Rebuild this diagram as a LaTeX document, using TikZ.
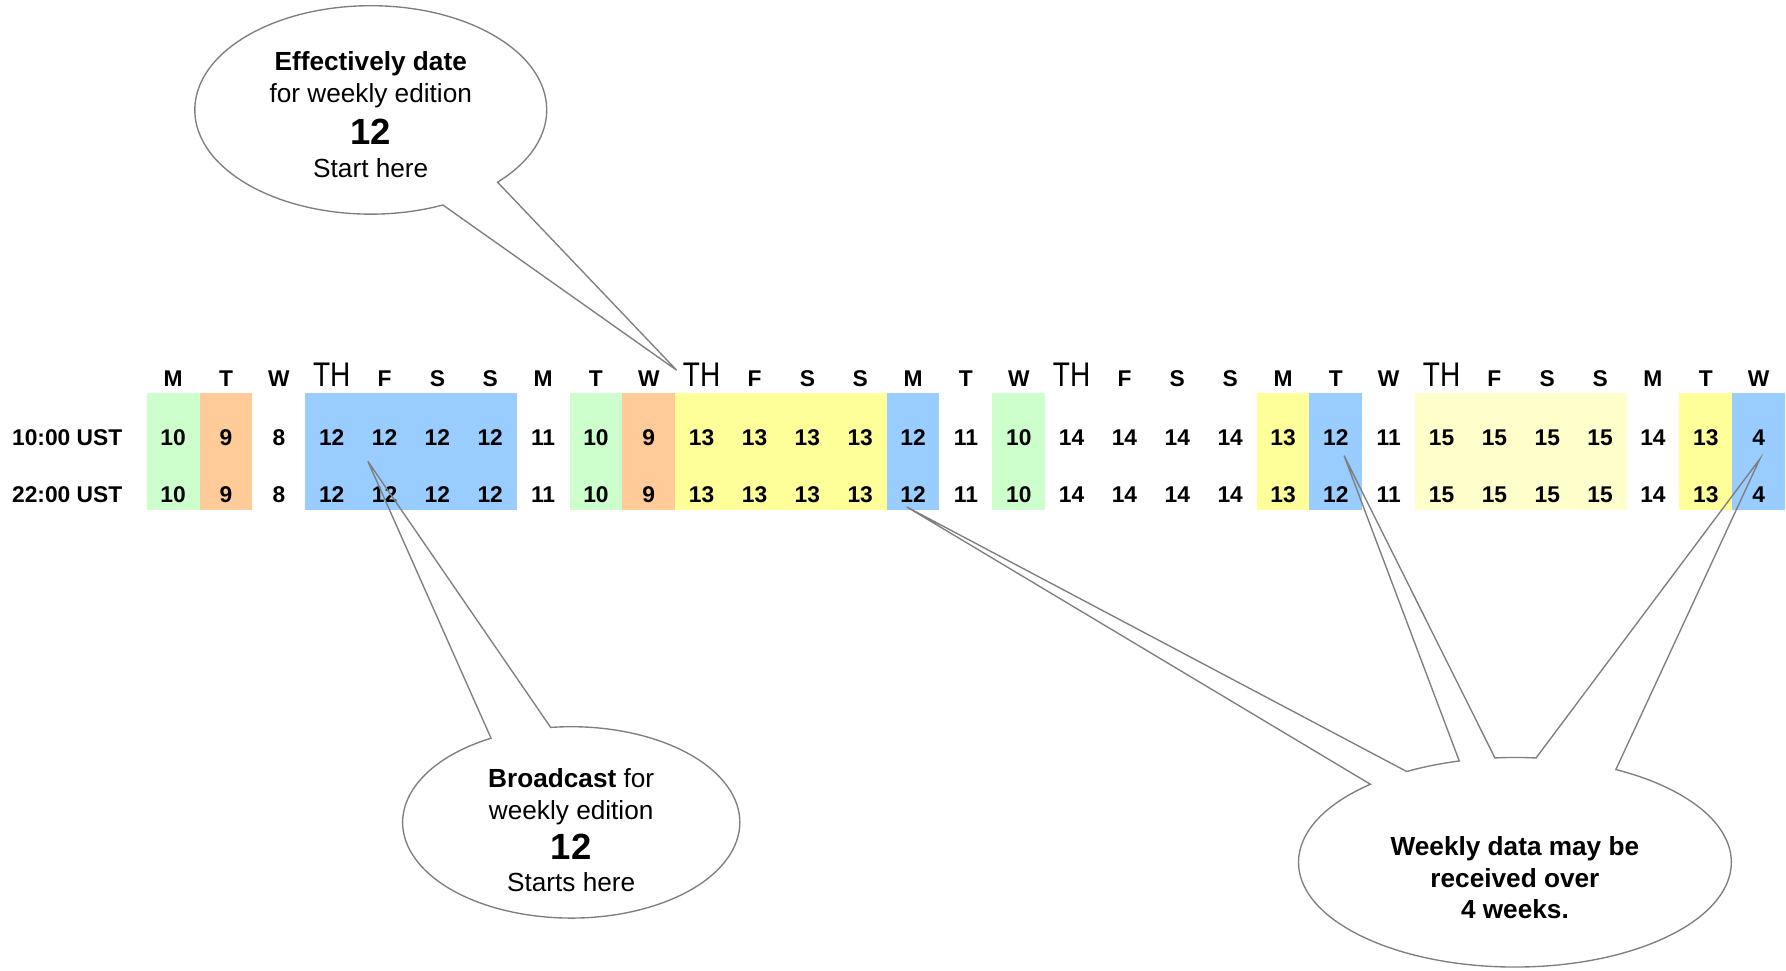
\documentclass[tikz,border=0pt]{standalone}
\usepackage{fontspec}
\setmainfont{Liberation Sans}
\usepackage{xcolor}
\usepackage{tikz}
\usetikzlibrary{calc,positioning}

\definecolor{cellgreen}{HTML}{CCFFCC}
\definecolor{cellorange}{HTML}{FFCC99}
\definecolor{cellblue}{HTML}{99CCFF}
\definecolor{cellyellow}{HTML}{FFFF99}
\definecolor{cellpale}{HTML}{FFFFCC}
\definecolor{notegray}{HTML}{7F7F7F}

\newcommand{\dayTH}{{\fontsize{15}{15}\selectfont\mdseries\scalebox{0.82}[1]{TH}}}

\begin{document}
\begin{tikzpicture}[x=0.5pt, y=0.5pt,
  cell/.style={font=\fontsize{10}{12}\selectfont\bfseries, inner sep=0pt},
  day/.style={font=\fontsize{10}{12}\selectfont\bfseries, anchor=base, inner sep=0pt},
  note/.style={draw=notegray, line width=0.6pt},
  notetext/.style={align=center, inner sep=0pt, font=\fontsize{11.5}{14}\selectfont}]

  \useasboundingbox (0,0) rectangle (1568,-852);

  \foreach \a/\b/\col in {1/1/cellgreen, 2/2/cellorange, 4/7/cellblue, 9/9/cellgreen,
      10/10/cellorange, 11/14/cellyellow, 15/15/cellblue, 17/17/cellgreen,
      22/22/cellyellow, 23/23/cellblue, 25/28/cellpale, 30/30/cellyellow, 31/31/cellblue}
    \fill[\col] (82.4+46.4*\a,-345) rectangle (128.8+46.4*\b,-448);

  \foreach \d [count=\i] in {M,T,W,\dayTH,F,S,S,M,T,W,\dayTH,F,S,S,M,T,W,\dayTH,F,S,S,
      M,T,W,\dayTH,F,S,S,M,T,W}
    \node[day] (d\i) at (105.6+46.4*\i,-339) {\d};

  \node[cell] (am) at (59,-384) {10:00 UST};
  \node[cell] (pm) at (59,-434) {22:00 UST};

  \foreach \v [count=\i] in {10,9,8,12,12,12,12,11,10,9,13,13,13,13,12,11,10,14,14,14,14,
      13,12,11,15,15,15,15,14,13,4}
  {
    \node[cell] (am\i) at (105.6+46.4*\i,-384) {\v};
    \node[cell] (pm\i) at (105.6+46.4*\i,-434) {\v};
  }

  \coordinate (effC) at (325.5,-96.5);
  \coordinate (bcastC) at (501.5,-722);
  \coordinate (weekC) at (1330,-757);

  \coordinate (effTip) at (594,-325);
  \coordinate (bcastTip) at (323,-405);
  \coordinate (tipM) at (796,-445);
  \coordinate (tipT) at (1180,-400);
  \coordinate (tipW) at (1545,-403);

  \node[notetext] (eff) at (325.5,-101) {\textbf{Effectively date}\\for weekly edition\\[4.5pt]
    {\fontsize{16}{18}\selectfont\bfseries 12}\\[0.5pt]Start here};
  \node[notetext] (bcast) at (501.5,-729) {\textbf{Broadcast} for\\weekly edition\\[3.75pt]
    {\fontsize{16}{18}\selectfont\bfseries 12}\\Starts here};
  \node[notetext, font=\fontsize{11.5}{14}\selectfont\bfseries] (week) at (1330,-770.5)
    {Weekly data may be\\received over\\4 weeks.};

  \draw[note] (effC) ++(-43.9:154.5 and 91.5)
    arc[start angle=-43.9, end angle=294.2, x radius=154.5, y radius=91.5]
    -- (effTip) -- cycle;
  \draw[note] (bcastC) ++(118.4:148 and 84)
    arc[start angle=118.4, end angle=457, x radius=148, y radius=84]
    -- (bcastTip) -- cycle;
  \draw[note] (weekC) ++(131.9:190 and 92)
    arc[start angle=131.9, end angle=422.2, x radius=190, y radius=92]
    -- (tipW) -- ($(weekC)+(84.4:190 and 92)$)
    arc[start angle=84.4, end angle=95.3, x radius=190, y radius=92]
    -- (tipT) -- ($(weekC)+(104.9:190 and 92)$)
    arc[start angle=104.9, end angle=120, x radius=190, y radius=92]
    -- (tipM) -- cycle;

\end{tikzpicture}
\end{document}
